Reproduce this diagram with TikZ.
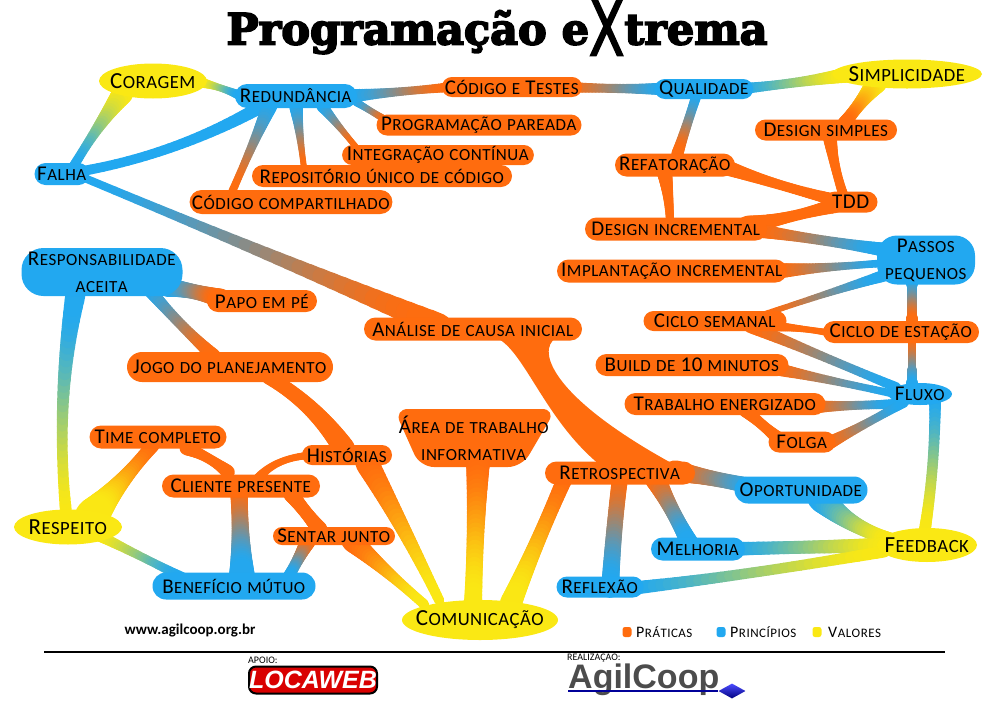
\documentclass[tikz,border=0pt]{standalone}
\usepackage{fontspec}
\usetikzlibrary{calc, backgrounds, shapes.geometric, shapes.misc}
\setmainfont{Carlito}
\newfontfamily\titlefont{DejaVu Serif}[BoldFeatures={FakeBold=4}]
\newfontfamily\xfont{DejaVu Sans}[BoldFont={DejaVu Sans},BoldFeatures={FakeBold=2.5}]
\newfontfamily\logofont{Liberation Sans}
\definecolor{orng}{HTML}{FF6C0E}
\definecolor{blu}{HTML}{22A8F0}
\definecolor{yel}{HTML}{FAE814}

% capitals and small capitals, letter by letter
\makeatletter
\newcommand{\fsc}[1]{\edef\fscsz{\strip@pt\dimexpr\f@size pt*81/100\relax}\fscword#1 \relax}
\def\fscword#1 #2\relax{\@tfor\fscc:=#1\do{\expandafter\fscchar\fscc}%
  \ifx\relax#2\relax\else\ \fscword#2\relax\fi}
\def\fscchar#1{\ifnum\uccode`#1=`#1 #1\else\ifnum\uccode`#1=0 #1\else
  {\fontsize{\fscsz}{\fscsz}\selectfont\uppercase{#1}}\fi\fi\kern.5pt\relax}
\makeatother

\def\splitw#1/#2/#3\relax{\def\wa{#1}\def\wm{#2}\def\wb{#3}}
% from, offset, colour; to, offset, colour; bend; widths
\newcommand{\branch}[8]{%
  \coordinate (p0) at ([shift={(#2)}]#1.center);
  \coordinate (p2) at ([shift={(#5)}]#4.center);
  \coordinate (p1) at ($(p0)!.5!(p2)+(#7)$);
  \splitw#8\relax
  \foreach \t [remember=\t as \s (initially 0)] in {.03,.06,...,1.01}{
    \pgfmathsetmacro\wdt{\wm+(\wa-\wm)*(1-\t)^2+(\wb-\wm)*\t^2}
    \pgfmathtruncatemacro\pct{min(100,100*(3*\t*\t-2*\t*\t*\t))}
    \draw[line cap=round, line width=\wdt pt, color=#6!\pct!#3]
      ($($(p0)!\s!(p1)$)!\s!($(p1)!\s!(p2)$)$) -- ($($(p0)!\t!(p1)$)!\t!($(p1)!\t!(p2)$)$);
  }
}

\tikzset{
  box/.style 2 args={inner sep=0pt, minimum width=#1pt, minimum height=#2pt,
    font=\fontsize{21}{27}\selectfont, align=center, text=black},
  prat/.style={rounded rectangle, fill=orng},
  princ/.style={rounded rectangle, fill=blu},
  val/.style={ellipse, fill=yel, inner xsep=-25pt, inner ysep=-10pt, font=\fontsize{23}{27}\selectfont},
  legenda/.style={font=\fontsize{16}{16}\selectfont, text=black, inner sep=0pt},
  dot/.style={fill=#1, rounded corners=2.5pt, minimum width=9pt, minimum height=10pt, inner sep=0pt}
}

\begin{document}
\begin{tikzpicture}[x=1pt,y=-1pt]
  \useasboundingbox (0,0) rectangle (994,702);

  \node (titulo) at (497,28) {\titlefont\bfseries\fontsize{43}{43}\selectfont Programação e\raisebox{-11pt}{\xfont\bfseries\scalebox{1.2}[1.75]{X}}trema};

  % valores
  \node[box={108}{35}, val] (cor) at (153,81) {\fsc{Coragem}};
  \node[box={150}{29}, val] (sim) at (907,74) {\fsc{Simplicidade}};
  \node[box={108}{35}, val] (res) at (68,527) {\fsc{Respeito}};
  \node[box={100}{34}, val] (fee) at (927,545) {\fsc{Feedback}};
  \node[box={156}{40}, val] (com) at (480,620) {\fsc{Comunicação}};

  % principios
  \node[princ, box={122}{24}] (red) at (296,96) {\fsc{Redundância}};
  \node[princ, box={95}{20}] (qua) at (704,89) {\fsc{Qualidade}};
  \node[princ, box={55}{22}] (fal) at (62,174) {\fsc{Falha}};
  \node[fill=blu, rounded corners=22pt, box={161}{48}] (rsp) at (102,272) {\fsc{Responsabilidade}\\\fsc{aceita}};
  \node[fill=blu, rounded corners=20pt, box={98}{49}] (pas) at (926,260) {\fsc{Passos}\\\fsc{pequenos}};
  \node[fill=blu, ellipse, box={64}{22}, inner xsep=-10pt, inner ysep=-5pt] (flu) at (920,394) {\fsc{Fluxo}};
  \node[princ, box={133}{27}] (opo) at (801,490) {\fsc{Oportunidade}};
  \node[princ, box={94}{23}] (mel) at (698,549) {\fsc{Melhoria}};
  \node[princ, box={87}{21}] (ref) at (600,587) {\fsc{Reflexão}};
  \node[princ, box={163}{27}] (ben) at (234,586) {\fsc{Benefício mútuo}};

  % praticas
  \node[prat, box={137}{20}] (cte) at (512,87) {\fsc{Código e Testes}};
  \node[prat, box={205}{21}] (ppa) at (479,125) {\fsc{Programação pareada}};
  \node[prat, box={142}{21}] (des) at (826,130) {\fsc{Design simples}};
  \node[prat, box={191}{20}] (int) at (438,155) {\fsc{Integração contínua}};
  \node[prat, box={260}{22}] (rep) at (382,176) {\fsc{Repositório único de código}};
  \node[prat, box={120}{23}] (rft) at (675,165) {\fsc{Refatoração}};
  \node[prat, box={200}{24}] (cco) at (291,202) {\fsc{Código compartilhado}};
  \node[prat, box={53}{21}] (tdd) at (851,202) {\fsc{TDD}};
  \node[prat, box={182}{23}] (din) at (676,229) {\fsc{Design incremental}};
  \node[prat, box={230}{23}] (imp) at (672,271) {\fsc{Implantação incremental}};
  \node[prat, box={110}{22}] (pap) at (262,301) {\fsc{Papo em pé}};
  \node[prat, box={143}{20}] (cse) at (715,321) {\fsc{Ciclo semanal}};
  \node[prat, box={156}{22}] (ces) at (901,332) {\fsc{Ciclo de estação}};
  \node[prat, box={218}{23}] (ana) at (473,329) {\fsc{Análise de causa inicial}};
  \node[prat, box={206}{30}] (jog) at (230,367) {\fsc{Jogo do planejamento}};
  \node[prat, box={193}{22}] (bui) at (692,365) {\fsc{Build de 10 minutos}};
  \node[prat, box={201}{22}] (tra) at (725,404) {\fsc{Trabalho energizado}};
  \node[prat, box={67}{21}] (fol) at (802,442) {\fsc{Folga}};
  \node[prat, box={137}{23}] (tim) at (158,437) {\fsc{Time completo}};
  \node[prat, box={90}{20}] (his) at (347,455) {\fsc{Histórias}};
  \node[prat, box={150}{23}] (ret) at (620,473) {\fsc{Retrospectiva}};
  \node[prat, box={158}{23}] (cli) at (241,486) {\fsc{Cliente presente}};
  \node[prat, box={122}{18}] (sen) at (334,536) {\fsc{Sentar junto}};
  \node[box={157}{58}] (are) at (474,438) {\fsc{Área de trabalho}\\\fsc{informativa}};

  % ligacoes
  \begin{scope}[on background layer]
    \fill[orng, rounded corners=14pt] ([shift={(-80,-29)}]are.center) -- ([shift={(82,-29)}]are.center)
      -- ([shift={(48,29)}]are.center) -- ([shift={(-54,29)}]are.center) -- cycle;
    \branch{cor}{-30,12}{yel}{fal}{10,-5}{blu}{-2,-2}{22/6/10}
    \branch{cor}{50,2}{yel}{red}{-55,0}{blu}{0,-2}{10/4/10}
    \branch{red}{-25,5}{blu}{fal}{15,-2}{blu}{6,18}{14/8/10}
    \branch{red}{-26,9}{blu}{cco}{-59,-10}{orng}{0,0}{16/6/8}
    \branch{red}{0,10}{blu}{rep}{-78,-8}{orng}{0,0}{14/5/6}
    \branch{red}{26,10}{blu}{int}{-82,-8}{orng}{0,0}{12/5/6}
    \branch{red}{60,6}{blu}{ppa}{-90,-3}{orng}{0,0}{8/5/8}
    \branch{red}{55,0}{blu}{cte}{-60,0}{orng}{0,0}{14/5/10}
    \branch{cte}{50,0}{orng}{qua}{-30,0}{blu}{0,1}{12/5/14}
    \branch{qua}{35,0}{blu}{sim}{-55,0}{yel}{0,2}{12/5/16}
    \branch{qua}{-8,8}{blu}{rft}{2,-10}{orng}{0,0}{10/8/12}
    \branch{sim}{-30,8}{yel}{des}{18,-6}{orng}{-2,2}{22/8/14}
    \branch{des}{4,8}{orng}{tdd}{-7,-5}{orng}{-3,0}{14/7/10}
    \branch{rft}{50,2}{orng}{tdd}{-20,-3}{orng}{-2,2}{16/6/12}
    \branch{rft}{-11,5}{orng}{din}{-6,-8}{orng}{2,0}{16/9/8}
    \branch{tdd}{-15,3}{orng}{din}{70,-3}{orng}{0,2}{16/4/20}
    \branch{din}{85,2}{orng}{pas}{-40,-10}{blu}{0,0}{14/6/14}
    \branch{imp}{105,0}{orng}{pas}{-40,3}{blu}{0,0}{16/5/8}
    \branch{cse}{50,-7}{orng}{pas}{-40,15}{blu}{0,-1}{6/4/12}
    \branch{pas}{-14,20}{blu}{ces}{11,-8}{orng}{0,0}{12/7/12}
    \branch{cse}{55,5}{orng}{ces}{-65,2}{orng}{0,-2}{12/3/8}
    \branch{ces}{11,8}{orng}{flu}{-8,-5}{blu}{0,0}{8/7/12}
    \branch{cse}{35,5}{orng}{flu}{-22,-6}{blu}{0,0}{14/6/10}
    \branch{bui}{80,3}{orng}{flu}{-25,0}{blu}{0,0}{14/5/8}
    \branch{tra}{85,3}{orng}{flu}{-25,10}{blu}{0,0}{14/6/10}
    \branch{tra}{20,6}{orng}{fol}{-22,-2}{orng}{0,0}{14/7/14}
    \branch{fol}{25,2}{orng}{flu}{-15,8}{blu}{0,1}{14/5/10}
    \branch{flu}{15,3}{blu}{fee}{-3,-10}{yel}{6,0}{12/9/12}
    \branch{opo}{20,8}{blu}{fee}{-35,-5}{yel}{-8,8}{28/12/14}
    \branch{mel}{30,0}{blu}{fee}{-30,0}{yel}{0,0}{14/11/16}
    \branch{ref}{25,2}{blu}{fee}{-40,6}{yel}{-12,6}{14/8/12}
    \branch{ret}{55,-2}{orng}{opo}{-40,-2}{blu}{0,0}{22/10/18}
    \branch{ret}{35,5}{orng}{mel}{-8,-5}{blu}{0,0}{22/10/18}
    \branch{ret}{0,5}{orng}{ref}{10,3}{blu}{-2,0}{16/15/18}
    \branch{ret}{-55,5}{orng}{com}{30,-15}{yel}{0,0}{16/11/22}
    \fill[orng] ([shift={(24,9)}]ana.center) .. controls +(28,14) and +(-55,-45) .. ([shift={(-20,-8)}]ret.center)
      -- ([shift={(70,0)}]ret.center) .. controls +(-140,-73) and +(-20,12) .. ([shift={(83,9)}]ana.center) -- cycle;
    \branch{fal}{20,3}{blu}{ana}{-30,-2}{orng}{0,0}{8/8/24}
    \branch{are}{4,25}{orng}{com}{-7,-15}{yel}{0,0}{24/14/18}
    \branch{his}{20,8}{orng}{com}{-40,-18}{yel}{2,-2}{24/12/10}
    \branch{sen}{18,5}{orng}{com}{-55,-15}{yel}{0,0}{22/8/10}
    \branch{jog}{38,10}{orng}{his}{-2,-5}{orng}{8,-10}{14/14/22}
    \branch{his}{-30,0}{orng}{cli}{15,-5}{orng}{-12,-12}{8/5/10}
    \branch{cli}{-13,-14}{orng}{tim}{28,11}{orng}{3,-3}{14/6/14}
    \branch{cli}{50,8}{orng}{sen}{-14,-6}{orng}{0,0}{16/10/16}
    \branch{cli}{-2,5}{orng}{ben}{8,-8}{blu}{0,0}{18/13/26}
    \branch{sen}{-26,5}{orng}{ben}{54,-8}{blu}{0,0}{16/9/12}
    \branch{tim}{-5,8}{orng}{res}{23,-10}{yel}{0,0}{14/8/34}
    \branch{res}{30,8}{yel}{ben}{-50,-8}{blu}{0,0}{12/6/10}
    \branch{res}{-2,-15}{yel}{rsp}{-26,20}{blu}{-16,0}{12/7/20}
    \branch{rsp}{65,15}{blu}{pap}{-40,-2}{orng}{2,-2}{20/10/20}
    \branch{rsp}{45,15}{blu}{jog}{-15,-10}{orng}{-2,3}{14/7/14}
  \end{scope}

  % legenda
  \node[dot=orng] (d1) at (627,632) {};
  \node[legenda, anchor=west] (l1) at (636,632) {\fsc{Práticas}};
  \node[dot=blu] (d2) at (721,632) {};
  \node[legenda, anchor=west] (l2) at (730,632) {\fsc{Princípios}};
  \node[dot=yel] (d3) at (817,632) {};
  \node[legenda, anchor=west] (l3) at (828,632) {\fsc{Valores}};

  \node[font=\bfseries\fontsize{15}{16}\selectfont, inner sep=0pt] (url) at (190,630) {www.agilcoop.org.br};
  \draw[line width=1.3pt] (44,652) coordinate (r0) -- (945,652) coordinate (r1);

  % logos
  \node[font=\fontsize{10}{10}\selectfont, anchor=west, inner sep=0pt] (apo) at (248,660) {APOIO:};
  \node[fill=red!85!black, draw=black, line width=2pt, rounded corners=7pt, inner sep=0pt,
        minimum width=128pt, minimum height=27pt, text=white,
        font=\logofont\bfseries\itshape\fontsize{25}{25}\selectfont] (loc) at (313,680) {LOCAWEB};
  \node[font=\fontsize{10}{10}\selectfont, anchor=west, inner sep=0pt] (rea) at (567,657.5) {REALIZAÇÃO:};
  \node[font=\logofont\bfseries\fontsize{34}{34}\selectfont, text=black!70, anchor=base west, inner sep=0pt,
        text height=25pt] (agi) at (568,688) {AgilCoop};
  \node[diamond, top color=blue!70, bottom color=blue!50!black, minimum width=27pt, minimum height=15pt, inner sep=0pt] (dia) at (732,691) {};
  \draw[blue!60!black, line width=1.3pt] (agi.base west |- dia) -- (dia);
\end{tikzpicture}
\end{document}
